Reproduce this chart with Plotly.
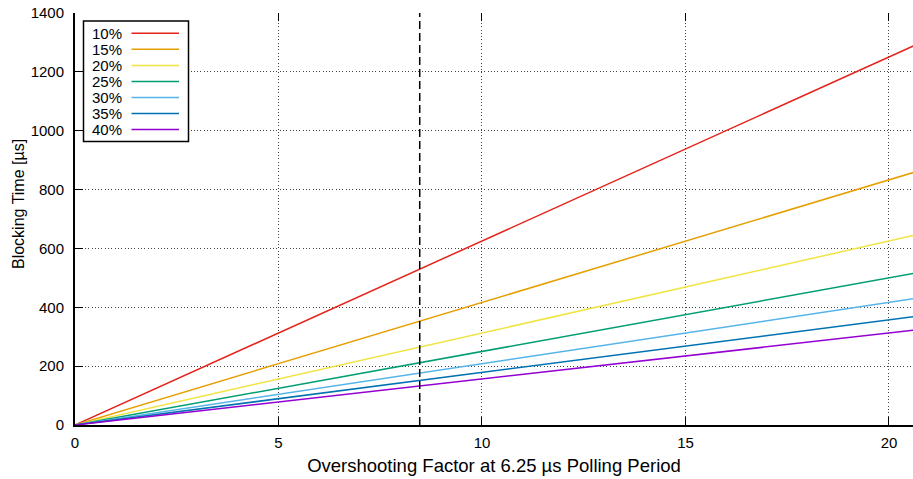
import plotly.graph_objects as go

# ---- data ----
x_vals = [0, 20.6]
labels = ["10%", "15%", "20%", "25%", "30%", "35%", "40%"]
s10 = [0, 1288]
s15 = [0, 858]
s20 = [0, 644]
s25 = [0, 515]
s30 = [0, 429]
s35 = [0, 368]
s40 = [0, 322]
series = [s10, s15, s20, s25, s30, s35, s40]
colors = ["#e5231b", "#e69f00", "#f0e442", "#009e73", "#56b4e9", "#0072b2", "#9400d3"]
marker_x = 8.47
x_ticks = [0, 5, 10, 15, 20]
y_ticks = [0, 200, 400, 600, 800, 1000, 1200, 1400]

W, H = 913, 479
L, R, T, B = 75, 0, 13, 54
PW, PH = W - L - R, H - T - B

def px(xp):
    return (xp - L) / PW

def py(yp):
    return (H - B - yp) / PH

FONT = "Liberation Sans, Arial, Helvetica, sans-serif"
GRID = "#444"
GRIDDASH = "1px,2.3px"

fig = go.Figure()
for lab, ys, c in zip(labels, series, colors):
    fig.add_trace(go.Scatter(x=x_vals, y=ys, mode="lines", name=lab,
                             line=dict(color=c, width=1.5), showlegend=False))

# vertical dashed marker
fig.add_trace(go.Scatter(x=[marker_x, marker_x], y=[0, 1400], mode="lines",
                         line=dict(color="black", width=1.5, dash="8px,4px"),
                         showlegend=False))

# top mirrored ticks (no axis line)
fig.add_trace(go.Scatter(x=[0], y=[0], xaxis="x2", mode="markers",
                         marker=dict(opacity=0), showlegend=False, hoverinfo="skip"))

fig.update_layout(
    width=W, height=H,
    margin=dict(l=L, r=R, t=T, b=B),
    paper_bgcolor="white", plot_bgcolor="white",
    font=dict(family=FONT, size=15, color="black"),
    xaxis=dict(range=[0, 20.59], tickvals=x_ticks, ticks="inside", ticklen=8,
               tickwidth=1, tickcolor="black", showline=True, linecolor="black",
               linewidth=2, showgrid=True, gridcolor=GRID, griddash=GRIDDASH,
               gridwidth=1, zeroline=False, ticklabelstandoff=3,
               title=dict(text="Overshooting Factor at 6.25 µs Polling Period",
                          font=dict(size=18.5), standoff=9),
               tickfont=dict(size=15)),
    xaxis2=dict(range=[0, 20.59], overlaying="x", side="top", tickvals=x_ticks,
                ticks="inside", ticklen=8, tickcolor="black", showticklabels=False,
                showline=False, showgrid=False, zeroline=False),
    yaxis=dict(range=[0, 1400], tickvals=y_ticks, ticks="inside", ticklen=8,
               tickwidth=1, tickcolor="black", showline=True, linecolor="black",
               linewidth=2, showgrid=True, gridcolor=GRID, griddash=GRIDDASH,
               gridwidth=1, zeroline=False, ticklabelstandoff=6,
               tickfont=dict(size=15)),
)

# y-axis title, placed as in the reference (slightly above plot centre)
fig.add_annotation(x=px(18), y=py(204), xref="paper", yref="paper",
                   text="Blocking Time [µs]", textangle=-90, showarrow=False,
                   xanchor="center", yanchor="middle",
                   font=dict(size=16, family=FONT, color="black"))

# custom gnuplot-style legend: text left, sample line right
box_l, box_r, box_t, box_b = 83.5, 188.5, 21, 141.5
fig.add_shape(type="rect", xref="paper", yref="paper",
              x0=px(box_l), x1=px(box_r), y0=py(box_b), y1=py(box_t),
              line=dict(color="black", width=1.5), fillcolor="white", layer="above")
row0, dy = 33.3, 16.05
for i, (lab, c) in enumerate(zip(labels, colors)):
    yy = row0 + i * dy
    fig.add_annotation(x=px(90), y=py(yy), xref="paper", yref="paper",
                       text=lab, showarrow=False, xanchor="left", yanchor="middle",
                       font=dict(size=15, family=FONT, color="black"))
    fig.add_shape(type="line", xref="paper", yref="paper",
                  x0=px(131.5), x1=px(179), y0=py(yy), y1=py(yy),
                  line=dict(color=c, width=1.5), layer="above")

fig.write_html("out.html")
